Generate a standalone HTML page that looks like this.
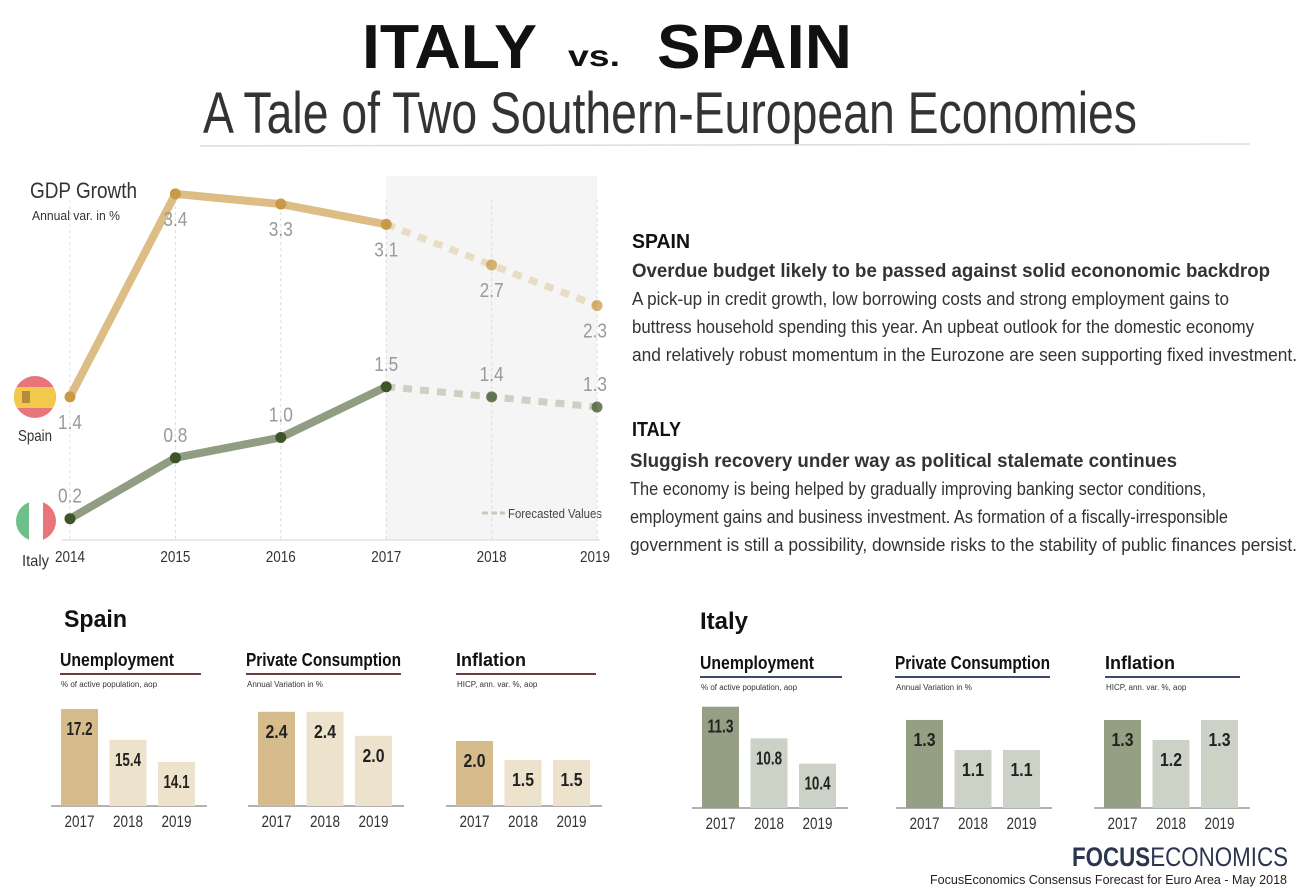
<!DOCTYPE html>
<html><head><meta charset="utf-8"><style>
html,body{margin:0;padding:0;background:#fff;}
svg{display:block;font-family:"Liberation Sans",sans-serif;}
</style></head><body>
<svg id="root" width="1307" height="892" viewBox="0 0 1307 892" xmlns="http://www.w3.org/2000/svg">
  <defs>
    <clipPath id="cSp"><circle cx="35" cy="397" r="21"/></clipPath>
    <clipPath id="cIt"><circle cx="36" cy="521" r="20"/></clipPath>
  </defs>
  <g>
    <text x="362" y="68" font-size="62" font-weight="bold" fill="#111" textLength="175" lengthAdjust="spacingAndGlyphs">ITALY</text>
    <text x="568" y="66" font-size="30" font-weight="bold" fill="#111" textLength="52" lengthAdjust="spacingAndGlyphs">vs.</text>
    <text x="657" y="68" font-size="62" font-weight="bold" fill="#111" textLength="195" lengthAdjust="spacingAndGlyphs">SPAIN</text>
    <text x="203" y="133" font-size="58" fill="#333" textLength="934" lengthAdjust="spacingAndGlyphs">A Tale of Two Southern-European Economies</text>
    <line x1="200" y1="146" x2="1250" y2="144" stroke="#ddd" stroke-width="1.5"/>
  </g>

  <g id="gdp">
    <rect x="386" y="176" width="211" height="364" fill="#f5f5f5"/>
    <text x="30" y="198" font-size="22" fill="#333" textLength="107" lengthAdjust="spacingAndGlyphs">GDP Growth</text>
    <text x="32" y="220" font-size="13" fill="#333" textLength="88" lengthAdjust="spacingAndGlyphs">Annual var. in %</text>
    <line x1="62" y1="540" x2="600" y2="540" stroke="#e2e2e2" stroke-width="1.5"/>
    <g>
      <line x1="482" y1="513" x2="505" y2="513" stroke="#c9c9bb" stroke-width="3" stroke-dasharray="6,3"/>
      <text x="508" y="518" font-size="13" fill="#444" textLength="94" lengthAdjust="spacingAndGlyphs">Forecasted Values</text>
    </g>
    <g>
      <g clip-path="url(#cSp)">
        <rect x="10" y="370" width="50" height="60" fill="#e8757a"/>
        <rect x="10" y="387" width="50" height="21" fill="#f2c94c"/>
        <rect x="22" y="391" width="8" height="12" fill="#b88a3b"/>
      </g>
      <text x="18" y="441" font-size="16" fill="#333" textLength="34" lengthAdjust="spacingAndGlyphs">Spain</text>
    </g>
    <g>
      <g clip-path="url(#cIt)">
        <rect x="14" y="500" width="16" height="44" fill="#6fbf8a"/>
        <rect x="29" y="500" width="14" height="44" fill="#fff"/>
        <rect x="43" y="500" width="16" height="44" fill="#e8757a"/>
      </g>
      <text x="22" y="566" font-size="16" fill="#333" textLength="27" lengthAdjust="spacingAndGlyphs">Italy</text>
    </g>
  </g>

  <g>
    <text x="632" y="248" font-size="20" font-weight="bold" fill="#111" textLength="58" lengthAdjust="spacingAndGlyphs">SPAIN</text>
    <text x="632" y="277" font-size="19" font-weight="bold" fill="#333" textLength="638" lengthAdjust="spacingAndGlyphs">Overdue budget likely to be passed against solid econonomic backdrop</text>
    <text x="632" y="305" font-size="18" fill="#333" textLength="597" lengthAdjust="spacingAndGlyphs">A pick-up in credit growth, low borrowing costs and strong employment gains to</text>
    <text x="632" y="333" font-size="18" fill="#333" textLength="622" lengthAdjust="spacingAndGlyphs">buttress household spending this year. An upbeat outlook for the domestic economy</text>
    <text x="632" y="361" font-size="18" fill="#333" textLength="665" lengthAdjust="spacingAndGlyphs">and relatively robust momentum in the Eurozone are seen supporting fixed investment.</text>
    <text x="632" y="436" font-size="20" font-weight="bold" fill="#111" textLength="49" lengthAdjust="spacingAndGlyphs">ITALY</text>
    <text x="630" y="467" font-size="19" font-weight="bold" fill="#333" textLength="547" lengthAdjust="spacingAndGlyphs">Sluggish recovery under way as political stalemate continues</text>
    <text x="630" y="495" font-size="18" fill="#333" textLength="576" lengthAdjust="spacingAndGlyphs">The economy is being helped by gradually improving banking sector conditions,</text>
    <text x="630" y="523" font-size="18" fill="#333" textLength="598" lengthAdjust="spacingAndGlyphs">employment gains and business investment. As formation of a fiscally-irresponsible</text>
    <text x="630" y="551" font-size="18" fill="#333" textLength="667" lengthAdjust="spacingAndGlyphs">government is still a possibility, downside risks to the stability of public finances persist.</text>
  </g>

  <text x="64" y="627" font-size="24" font-weight="bold" fill="#111" textLength="63" lengthAdjust="spacingAndGlyphs">Spain</text>
  <text x="700" y="629" font-size="24" font-weight="bold" fill="#111" textLength="48" lengthAdjust="spacingAndGlyphs">Italy</text>
  <g id="bars"></g>

  <g>
    <text x="1072" y="866" font-size="27" fill="#2a3550" textLength="216" lengthAdjust="spacingAndGlyphs"><tspan font-weight="bold">FOCUS</tspan>ECONOMICS</text>
    <text x="930" y="884" font-size="13" fill="#222" textLength="357" lengthAdjust="spacingAndGlyphs">FocusEconomics Consensus Forecast for Euro Area - May 2018</text>
  </g>
</svg>
<script>
const years = ["2014","2015","2016","2017","2018","2019"];
const spainGdp = [1.4, 3.4, 3.3, 3.1, 2.7, 2.3];
const italyGdp = [0.2, 0.8, 1.0, 1.5, 1.4, 1.3];
const barYears = ["2017","2018","2019"];
const spainUnemp = [17.2, 15.4, 14.1];
const spainCons = [2.4, 2.4, 2.0];
const spainInfl = [2.0, 1.5, 1.5];
const italyUnemp = [11.3, 10.8, 10.4];
const italyCons = [1.3, 1.1, 1.1];
const italyInfl = [1.3, 1.2, 1.3];

const NS = "http://www.w3.org/2000/svg";
function mk(tag, attrs, parent, txt){
  const e = document.createElementNS(NS, tag);
  for (const k in attrs) e.setAttribute(k, attrs[k]);
  if (txt !== undefined) e.textContent = txt;
  parent.appendChild(e);
  return e;
}
const gdp = document.getElementById('gdp');
const xg = i => 70 + i * 105.4;
const yg = v => 539 - v * 101.5;

years.forEach((y, i) => {
  const gl = mk('line', {x1: xg(i), x2: xg(i), y1: 200, y2: 540, stroke: '#ddd', 'stroke-dasharray': '3,3'}, gdp);
  
  
  const t = mk('text', {x: xg(i) + (i===5?-2:0), y: 562, 'font-size': 16, fill: '#333', 'text-anchor': 'middle', textLength: 30, lengthAdjust: 'spacingAndGlyphs'}, gdp, y);
  
  
});

function series(vals, name, lineCol, fcCol, dotCol, below){
  const g = mk('g', {}, gdp);
  
  
  const act = vals.slice(0, 4).map((v, i) => xg(i) + ',' + yg(v)).join(' ');
  const fc = vals.slice(3).map((v, i) => xg(i + 3) + ',' + yg(v)).join(' ');
  const l1 = mk('polyline', {points: act, fill: 'none', stroke: lineCol, 'stroke-width': 8, 'stroke-linejoin': 'round'}, g);
  
  
  const l2 = mk('polyline', {points: fc, fill: 'none', stroke: fcCol, 'stroke-width': 7, 'stroke-dasharray': '9,8'}, g);
  
  
  vals.forEach((v, i) => {
    const c = mk('circle', {cx: xg(i), cy: yg(v), r: 5.5, fill: dotCol, opacity: i > 3 ? 0.75 : 1}, g);
    
    
    const ly = below ? yg(v) + 32 : yg(v) - 16;
    const t = mk('text', {x: xg(i) + (i===5?-2:0), y: ly, 'font-size': 20, fill: '#999', 'text-anchor': 'middle', textLength: 24, lengthAdjust: 'spacingAndGlyphs'}, g, v.toFixed(1));
    
    
  });
}
series(spainGdp, 'spain', '#dcbd86', '#e8dcc4', '#c99a45', true);
series(italyGdp, 'italy', '#909d82', '#cfcfc3', '#3e5429', false);

const bars = document.getElementById('bars');
function barChart(name, title, titleW, sub, vals, x0, tx, lineEnd, base, ppu, off, dark, light, rule, titleY){
  const g = mk('g', {}, bars);
  
  
  const t = mk('text', {x: tx, y: titleY, 'font-size': 18, 'font-weight': 'bold', fill: '#111', textLength: titleW, lengthAdjust: 'spacingAndGlyphs'}, g, title);
  
  
  const r = mk('line', {x1: tx, x2: lineEnd, y1: titleY + 8, y2: titleY + 8, stroke: rule, 'stroke-width': 2}, g);
  
  
  const s = mk('text', {x: tx + 1, y: titleY + 21, 'font-size': 8, fill: '#333'}, g, sub);
  
  
  const ax = mk('line', {x1: x0 - 10, x2: x0 + 146, y1: base, y2: base, stroke: '#999', 'stroke-width': 1.5}, g);
  
  
  vals.forEach((v, i) => {
    const h = (v - off) * ppu;
    const bx = x0 + i * 48.5;
    const b = mk('rect', {x: bx, y: base - h, width: 37, height: h, fill: i === 0 ? dark : light}, g);
    
    
    const vl = mk('text', {x: bx + 18.5, y: base - h + Math.min(26, h - 10), 'font-size': 18, 'font-weight': 'bold', fill: '#222', 'text-anchor': 'middle', textLength: v >= 10 ? 26 : 22, lengthAdjust: 'spacingAndGlyphs'}, g, v.toFixed(1));
    
    
    const yl = mk('text', {x: bx + 18.5, y: base + 21, 'font-size': 17, fill: '#333', 'text-anchor': 'middle', textLength: 30, lengthAdjust: 'spacingAndGlyphs'}, g, barYears[i]);
    
    
  });
}
const sD = '#d6bb8c', sL = '#ede2cc', iD = '#949f84', iL = '#cdd2c6', sR = '#6e3b3f', iR = '#3e4a6e';
barChart('spain-unemployment', 'Unemployment', 114, '% of active population, aop', spainUnemp, 61, 60, 201, 806, 17.1, 11.53, sD, sL, sR, 666);
barChart('spain-consumption', 'Private Consumption', 155, 'Annual Variation in %', spainCons, 258, 246, 401, 806, 60, 0.83, sD, sL, sR, 666);
barChart('spain-inflation', 'Inflation', 70, 'HICP, ann. var. %, aop', spainInfl, 456, 456, 596, 806, 38, 0.29, sD, sL, sR, 666);
barChart('italy-unemployment', 'Unemployment', 114, '% of active population, aop', italyUnemp, 702, 700, 842, 808, 63.3, 9.7, iD, iL, iR, 669);
barChart('italy-consumption', 'Private Consumption', 155, 'Annual Variation in %', italyCons, 906, 895, 1050, 808, 150, 0.713, iD, iL, iR, 669);
barChart('italy-inflation', 'Inflation', 70, 'HICP, ann. var. %, aop', italyInfl, 1104, 1105, 1240, 808, 200, 0.86, iD, iL, iR, 669);
</script>
</body></html>
